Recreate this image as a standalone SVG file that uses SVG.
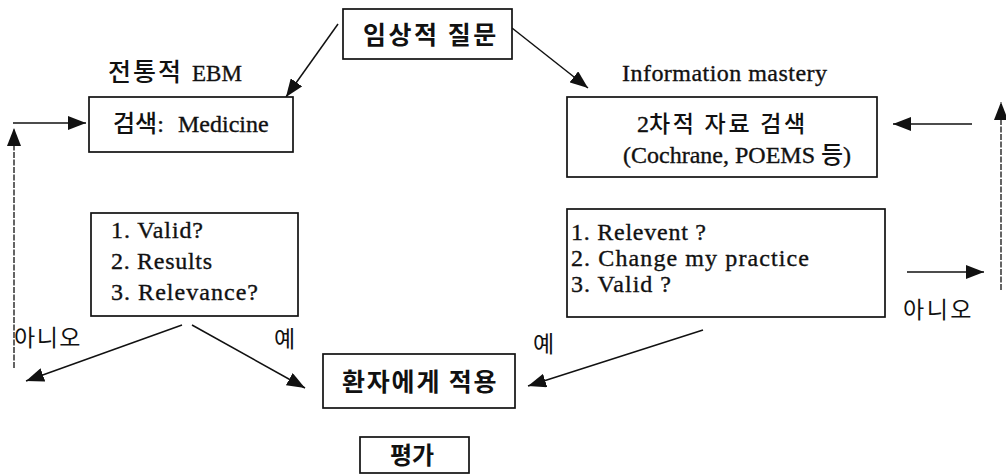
<svg xmlns="http://www.w3.org/2000/svg" width="1006" height="475" viewBox="0 0 1006 475">
<style>
.box{fill:#fff;stroke:#111;stroke-width:1.7}
.ln{fill:none;stroke:#111;stroke-width:1.5}
.dl{fill:none;stroke:#222;stroke-width:1.4;stroke-dasharray:6 1.5}
.lat{font-family:"Liberation Serif","Noto Sans CJK KR",serif;font-size:24px;fill:#111;stroke:#111;stroke-width:0.35}
.ko{font-family:"Noto Sans CJK KR",sans-serif;font-weight:500;stroke:none;fill:#111}
.kob{font-family:"Noto Sans CJK KR",sans-serif;font-weight:bold;fill:#111}
.kl{font-family:"Noto Sans CJK KR",sans-serif;font-weight:400;fill:#111;font-size:23px}
</style>
<defs>
<marker id="ah" markerUnits="userSpaceOnUse" markerWidth="20" markerHeight="14" refX="18" refY="7" orient="auto">
<path d="M0,0 L18,7 L0,14 Z" fill="#111"/>
</marker>
</defs>
<g id="connectors">
<line class="ln" x1="338" y1="24" x2="286" y2="97" marker-end="url(#ah)"/>
<line class="ln" x1="512" y1="28" x2="588" y2="88" marker-end="url(#ah)"/>
<line class="ln" x1="13" y1="123" x2="86" y2="123" marker-end="url(#ah)"/>
<line class="dl" x1="14" y1="368" x2="14" y2="128" marker-end="url(#ah)"/>
<line class="ln" x1="972" y1="124" x2="893" y2="124" marker-end="url(#ah)"/>
<line class="dl" x1="1001" y1="290" x2="1001" y2="102" marker-end="url(#ah)"/>
<line class="ln" x1="907" y1="272" x2="984" y2="272" marker-end="url(#ah)"/>
<line class="ln" x1="182" y1="325" x2="26" y2="381" marker-end="url(#ah)"/>
<line class="ln" x1="192" y1="325" x2="305" y2="388" marker-end="url(#ah)"/>
<line class="ln" x1="703" y1="330" x2="528" y2="386" marker-end="url(#ah)"/>
</g>
<g id="label-ebm"><text class="lat" x="108" y="81"><tspan class="ko" font-size="25" letter-spacing="2">전통적</tspan><tspan x="192" font-size="23">EBM</tspan></text></g>
<g id="label-im"><text class="lat" x="622" y="81" textLength="205">Information mastery</text></g>
<g id="node-question">
<rect class="box" x="343" y="9" width="169" height="50"/>
<text class="kob" x="363" y="44" font-size="25" letter-spacing="2.5">임상적 질문</text>
</g>
<g id="node-search-medicine">
<rect class="box" x="89" y="97" width="204" height="55"/>
<text class="lat" x="113" y="132"><tspan class="ko">검색</tspan>:<tspan x="178">Medicine</tspan></text>
</g>
<g id="node-secondary">
<rect class="box" x="567" y="97" width="310" height="80"/>
<text class="lat" x="637" y="132">2<tspan class="ko" font-size="23" letter-spacing="2.7">차적 자료 검색</tspan></text>
<text class="lat" x="623" y="163" font-size="21.5">(Cochrane, POEMS <tspan class="ko">등</tspan>)</text>
</g>
<g id="node-valid">
<rect class="box" x="91" y="213" width="207" height="103"/>
<text class="lat" x="111" y="238" textLength="92">1. Valid?</text>
<text class="lat" x="111" y="269" textLength="101">2. Results</text>
<text class="lat" x="111" y="300" textLength="147">3. Relevance?</text>
</g>
<g id="node-relevent">
<rect class="box" x="567" y="209" width="318" height="108"/>
<text class="lat" x="571" y="240" textLength="135">1. Relevent ?</text>
<text class="lat" x="571" y="266" textLength="238">2. Change my practice</text>
<text class="lat" x="571" y="292" textLength="100">3. Valid ?</text>
</g>
<g id="node-apply">
<rect class="box" x="323" y="354" width="192" height="54"/>
<text class="kob" x="342" y="391" font-size="25" letter-spacing="1.8">환자에게 적용</text>
</g>
<g id="node-eval">
<rect class="box" x="360" y="437" width="109" height="36"/>
<text class="kob" x="390" y="464" font-size="24">평가</text>
</g>
<g id="labels">
<text class="kl" x="14" y="346" letter-spacing="1.5">아니오</text>
<text class="kl" x="274" y="347">예</text>
<text class="kl" x="533" y="352">예</text>
<text class="kl" x="903" y="318" letter-spacing="2.5">아니오</text>
</g>
</svg>
